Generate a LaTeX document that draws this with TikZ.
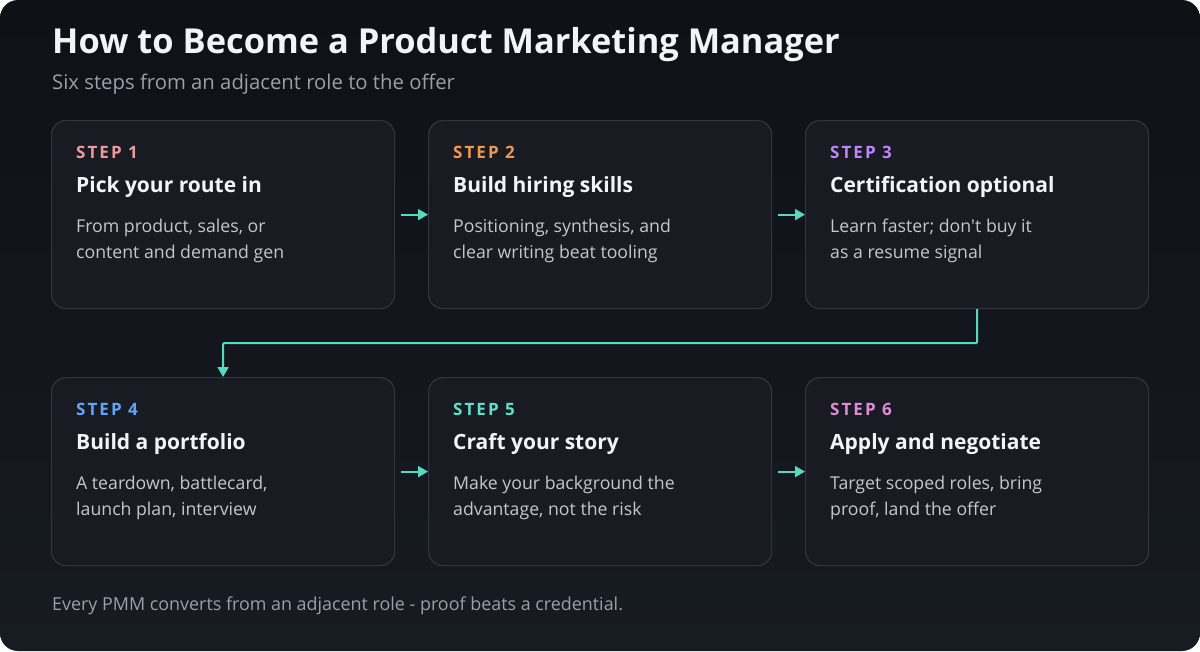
\documentclass[tikz,border=0pt]{standalone}
\usepackage{fontspec}
\setmainfont{Open Sans}
\usetikzlibrary{arrows.meta,calc}

\definecolor{bgtop}{HTML}{0E1116}
\definecolor{bgbot}{HTML}{171B22}
\definecolor{cardfill}{HTML}{181C22}
\definecolor{cardline}{HTML}{30353C}
\definecolor{linkcol}{HTML}{56D9C1}
\definecolor{headtxt}{HTML}{F2F4F8}
\definecolor{subtxt}{HTML}{9AA0A8}
\definecolor{desctxt}{HTML}{C3C7CE}
\definecolor{stepA}{HTML}{EE9A9A}
\definecolor{stepB}{HTML}{F5964F}
\definecolor{stepC}{HTML}{C084FC}
\definecolor{stepD}{HTML}{60A5FA}
\definecolor{stepE}{HTML}{5EE0C8}
\definecolor{stepF}{HTML}{E08AD6}

\newcommand{\steptag}[1]{{\addfontfeature{LetterSpace=12}#1}}

\begin{document}
\begin{tikzpicture}[
	x=1pt, y=-1pt,
	card/.style={draw=cardline, line width=1.2pt, fill=cardfill, rounded corners=14pt,
		minimum width=343pt, minimum height=188pt, anchor=north west, inner sep=0pt},
	steplbl/.style={anchor=base west, inner sep=0pt, font=\bfseries\fontsize{17}{17}\selectfont},
	ttl/.style={anchor=base west, inner sep=0pt, text=headtxt, font=\bfseries\fontsize{21}{21}\selectfont},
	desc/.style={anchor=base west, inner sep=0pt, text=desctxt, align=left,
		font=\fontsize{17.7}{26}\selectfont},
	link/.style={draw=linkcol, line width=2pt, -{Triangle[width=11pt,length=10pt]}},
	]
	
	%-----------------------
	% Canvas
	%-----------------------
	\useasboundingbox (0,0) rectangle (1200,651);
	\fill[white] (0,0) rectangle (1200,651);
	\shade[top color=bgtop, bottom color=bgbot, rounded corners=18pt] (0,0) rectangle (1200,651);
	
	%-----------------------
	% Heading
	%-----------------------
	\node[anchor=base west, inner sep=0pt, text=headtxt, font=\bfseries\fontsize{34.4}{34.4}\selectfont]
		(head) at (52,53) {How to Become a Product Marketing Manager};
	\node[anchor=base west, inner sep=0pt, text=subtxt, font=\fontsize{20.3}{20.3}\selectfont]
		(sub) at (52,89) {Six steps from an adjacent role to the offer};
	
	%-----------------------
	% Row heights and columns
	%-----------------------
	\def\rowI{120}
	\def\rowII{377}
	\def\colA{51}
	\def\colB{428}
	\def\colC{805}
	
	%-----------------------
	% Cards
	%-----------------------
	\node[card] (c1) at (\colA,\rowI) {};
	\node[card] (c2) at (\colB,\rowI) {};
	\node[card] (c3) at (\colC,\rowI) {};
	\node[card] (c4) at (\colA,\rowII) {};
	\node[card] (c5) at (\colB,\rowII) {};
	\node[card] (c6) at (\colC,\rowII) {};
	
	%-----------------------
	% Card texts (desc is anchored on its last line)
	%-----------------------
	\node[steplbl, text=stepA] (s1) at ($(c1.north west)+(25,38)$) {\steptag{STEP 1}};
	\node[ttl] (t1) at ($(c1.north west)+(25,72)$) {Pick your route in};
	\node[desc] (d1) at ($(c1.north west)+(25,138)$) {From product, sales, or\\content and demand gen};
	
	\node[steplbl, text=stepB] (s2) at ($(c2.north west)+(25,38)$) {\steptag{STEP 2}};
	\node[ttl] (t2) at ($(c2.north west)+(25,72)$) {Build hiring skills};
	\node[desc] (d2) at ($(c2.north west)+(25,138)$) {Positioning, synthesis, and\\clear writing beat tooling};
	
	\node[steplbl, text=stepC] (s3) at ($(c3.north west)+(25,38)$) {\steptag{STEP 3}};
	\node[ttl] (t3) at ($(c3.north west)+(25,72)$) {Certification optional};
	\node[desc] (d3) at ($(c3.north west)+(25,138)$) {Learn faster; don\textquotesingle t buy it\\as a resume signal};
	
	\node[steplbl, text=stepD] (s4) at ($(c4.north west)+(25,38)$) {\steptag{STEP 4}};
	\node[ttl] (t4) at ($(c4.north west)+(25,72)$) {Build a portfolio};
	\node[desc] (d4) at ($(c4.north west)+(25,138)$) {A teardown, battlecard,\\launch plan, interview};
	
	\node[steplbl, text=stepE] (s5) at ($(c5.north west)+(25,38)$) {\steptag{STEP 5}};
	\node[ttl] (t5) at ($(c5.north west)+(25,72)$) {Craft your story};
	\node[desc] (d5) at ($(c5.north west)+(25,138)$) {Make your background the\\advantage, not the risk};
	
	\node[steplbl, text=stepF] (s6) at ($(c6.north west)+(25,38)$) {\steptag{STEP 6}};
	\node[ttl] (t6) at ($(c6.north west)+(25,72)$) {Apply and negotiate};
	\node[desc] (d6) at ($(c6.north west)+(25,138)$) {Target scoped roles, bring\\proof, land the offer};
	
	%-----------------------
	% Footer
	%-----------------------
	\node[anchor=base west, inner sep=0pt, text=subtxt, font=\fontsize{17.9}{17.9}\selectfont]
		(foot) at (52,610) {Every PMM converts from an adjacent role - proof beats a credential.};
	
	%-----------------------
	% Connections
	%-----------------------
	\draw[link, shorten <=6pt] (c1.east) -- (c2.west);
	\draw[link, shorten <=6pt] (c2.east) -- (c3.west);
	\draw[link, rounded corners=1pt] (c3.south) -- ++(0,34) -| (c4.north);
	\draw[link, shorten <=6pt] (c4.east) -- (c5.west);
	\draw[link, shorten <=6pt] (c5.east) -- (c6.west);
	
\end{tikzpicture}
\end{document}
